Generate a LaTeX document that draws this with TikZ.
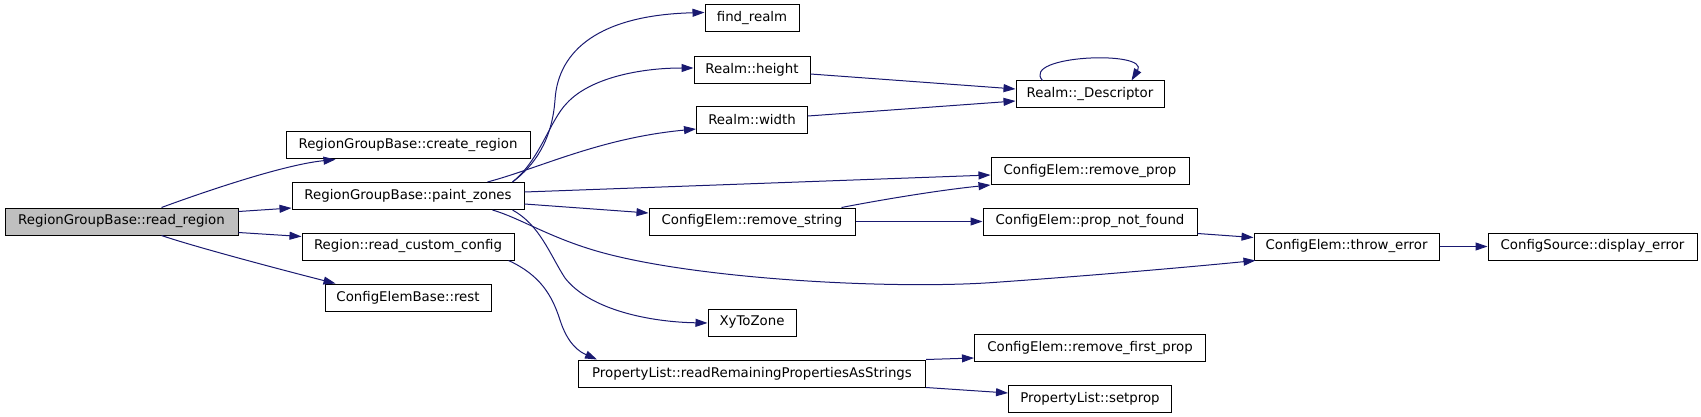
\documentclass[tikz,border=0pt]{standalone}
\usepackage{fontspec}
\setmainfont{DejaVu Sans}
\usetikzlibrary{arrows.meta,calc}
\definecolor{edgecol}{HTML}{191970}
\definecolor{rootfill}{HTML}{BFBFBF}
\tikzset{
  box/.style={draw=black, line width=0.75pt, fill=white, inner sep=0pt, minimum height=27*0.75pt,
    font=\fontsize{10}{12}\selectfont, anchor=center},
  rootbox/.style={box, fill=rootfill},
  edge/.style={draw=edgecol, line width=0.75pt, -{Triangle[length=9pt,width=6pt]}, fill=none},
}
\begin{document}
\begin{tikzpicture}[x=0.75pt,y=-0.75pt]
\useasboundingbox (0,0) rectangle (1701,417);
% nodes
\node[rootbox, minimum width=233*0.75pt] (rr) at (121.5,221.5) {RegionGroupBase::read\_region};
\node[box, minimum width=244*0.75pt] (cr) at (408,145.5) {RegionGroupBase::create\_region};
\node[box, minimum width=232*0.75pt] (pz) at (408,196) {RegionGroupBase::paint\_zones};
\node[box, minimum width=212*0.75pt] (rc) at (408,246.5) {Region::read\_custom\_config};
\node[box, minimum width=166*0.75pt] (rest) at (408,297.5) {ConfigElemBase::rest};
\node[box, minimum width=94*0.75pt] (fr) at (752,18.5) {find\_realm};
\node[box, minimum width=116*0.75pt] (rh) at (752,70) {Realm::height};
\node[box, minimum width=111*0.75pt] (rw) at (752,120) {Realm::width};
\node[box, minimum width=206*0.75pt] (rs) at (752,221.5) {ConfigElem::remove\_string};
\node[box, minimum width=88*0.75pt] (xy) at (752,322.5) {XyToZone};
\node[box, minimum width=347*0.75pt] (pl) at (752,373.5) {PropertyList::readRemainingPropertiesAsStrings};
\node[box, minimum width=148*0.75pt] (de) at (1090,94.5) {Realm::\_Descriptor};
\node[box, minimum width=198*0.75pt] (rp) at (1090,171) {ConfigElem::remove\_prop};
\node[box, minimum width=214*0.75pt] (pn) at (1090,221.5) {ConfigElem::prop\_not\_found};
\node[box, minimum width=231*0.75pt] (rf) at (1090,348) {ConfigElem::remove\_first\_prop};
\node[box, minimum width=163*0.75pt] (sp) at (1090,399) {PropertyList::setprop};
\node[box, minimum width=185*0.75pt] (te) at (1346.5,246.5) {ConfigElem::throw\_error};
\node[box, minimum width=209*0.75pt] (ds) at (1592.5,246.5) {ConfigSource::display\_error};
% edges
\path[edge] ($(rr.north west)+(157,0)$) .. controls (190,197) and (280,165) .. ($(cr.south west)+(50,0)$);
\path[edge] ($(rr.north east)+(0,4)$) -- ($(pz.south west)+(0,-2)$);
\path[edge] ($(rr.south east)+(0,-3)$) -- ($(rc.north west)+(0,4)$);
\path[edge] ($(rr.south west)+(157,0)$) .. controls (195,247) and (290,272) .. ($(rest.north west)+(11,0)$);
\path[edge] ($(pz.north east)+(-12,0)$) .. controls (535,165) and (552,140) .. (555,100) .. controls (558,50) and (600,15) .. ($(fr.north west)+(0,8)$);
\path[edge] ($(pz.north east)+(-12,0)$) .. controls (540,160) and (550,120) .. (567,103) .. controls (590,78) and (640,68) .. ($(rh.south west)+(0,-16)$);
\path[edge] ($(pz.north east)+(-37,0)$) .. controls (540,168) and (600,138) .. ($(rw.south west)+(0,-5)$);
\path[edge] ($(pz.east)+(0,-4)$) -- ($(rp.west)+(0,4)$);
\path[edge] ($(pz.east)+(0,8)$) -- ($(rs.west)+(0,-8.5)$);
\path[edge] ($(pz.south east)+(-32,0)$) .. controls (520,218) and (550,238) .. (600,252) .. controls (700,280) and (900,290) .. (1000,282) .. controls (1100,275) and (1200,266) .. ($(te.south west)+(2,0)$);
\path[edge] ($(pz.south east)+(-12,0)$) .. controls (540,225) and (550,255) .. (565,278) .. controls (590,310) and (650,322) .. ($(xy.west)+(0,0.5)$);
\path[edge] ($(rc.south east)+(-6,0)$) .. controls (540,275) and (552,295) .. (560,320) .. controls (568,345) and (580,352) .. ($(pl.north west)+(19,0)$);
\path[edge] (pl.north east) -- ($(rf.south west)+(0,-4)$);
\path[edge] (pl.south east) -- ($(sp.west)+(0,-6)$);
\path[edge] ($(rh.east)+(0,4)$) -- ($(de.west)+(0,-5.5)$);
\path[edge] ($(rw.east)+(0,-4)$) -- ($(de.west)+(0,6.5)$);
\path[edge] ($(de.north west)+(27,0)$) .. controls (1020,55) and (1150,50) .. ($(de.north west)+(116,0)$);
\path[edge] ($(rs.north east)+(-14,0)$) .. controls (880,200) and (940,190) .. ($(rp.south west)+(0,0)$);
\path[edge] (rs.east) -- (pn.west);
\path[edge] ($(pn.south east)+(0,-2)$) -- ($(te.north west)+(0,5)$);
\path[edge] (te.east) -- (ds.west);
\end{tikzpicture}
\end{document}
